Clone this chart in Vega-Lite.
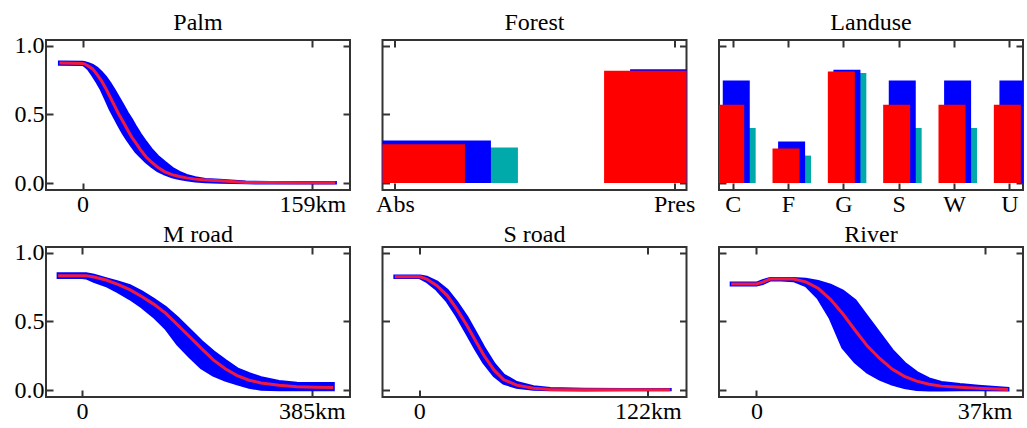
{
  "$schema": "https://vega.github.io/schema/vega-lite/v6.json",
  "autosize": {"type": "pad"},
  "padding": {"left": 13, "top": 9, "right": 0, "bottom": 0},
  "background": "white",
  "bounds": "flush",
  "columns": 3,
  "spacing": {"row": 57, "column": 32.5},
  "config": {
    "view": {"stroke": "#333", "strokeWidth": 2},
    "axis": {"labelFont": "Liberation Serif", "labelFontSize": 24, "labelColor": "black", "tickColor": "#333", "tickWidth": 2, "tickSize": -7, "domain": false, "grid": false, "title": null, "labelFlush": false, "labelOverlap": false},
    "axisX": {"labelPadding": 9},
    "axisY": {"labelPadding": 9},
    "title": {"font": "Liberation Serif", "fontSize": 24, "fontWeight": "normal", "color": "black", "offset": -1}
  },
  "datasets": {
    "palm": [
      {"km": -16, "mean": 0.872, "lo": 0.864, "hi": 0.88},
      {"km": 0, "mean": 0.87, "lo": 0.862, "hi": 0.878},
      {"km": 1.2, "mean": 0.867, "lo": 0.855, "hi": 0.876},
      {"km": 4, "mean": 0.85, "lo": 0.83, "hi": 0.868},
      {"km": 7, "mean": 0.83, "lo": 0.785, "hi": 0.855},
      {"km": 10, "mean": 0.79, "lo": 0.735, "hi": 0.835},
      {"km": 13, "mean": 0.745, "lo": 0.68, "hi": 0.805},
      {"km": 16, "mean": 0.69, "lo": 0.61, "hi": 0.77},
      {"km": 19, "mean": 0.628, "lo": 0.54, "hi": 0.725},
      {"km": 22, "mean": 0.565, "lo": 0.48, "hi": 0.675},
      {"km": 25, "mean": 0.502, "lo": 0.42, "hi": 0.62},
      {"km": 28, "mean": 0.447, "lo": 0.365, "hi": 0.565},
      {"km": 31, "mean": 0.39, "lo": 0.315, "hi": 0.51},
      {"km": 34, "mean": 0.335, "lo": 0.27, "hi": 0.46},
      {"km": 37, "mean": 0.29, "lo": 0.227, "hi": 0.405},
      {"km": 40, "mean": 0.243, "lo": 0.195, "hi": 0.355},
      {"km": 44, "mean": 0.19, "lo": 0.155, "hi": 0.295},
      {"km": 48, "mean": 0.15, "lo": 0.12, "hi": 0.24},
      {"km": 52, "mean": 0.115, "lo": 0.09, "hi": 0.195},
      {"km": 57, "mean": 0.082, "lo": 0.065, "hi": 0.15},
      {"km": 62, "mean": 0.062, "lo": 0.045, "hi": 0.108},
      {"km": 67, "mean": 0.048, "lo": 0.033, "hi": 0.078},
      {"km": 72, "mean": 0.038, "lo": 0.024, "hi": 0.056},
      {"km": 78, "mean": 0.029, "lo": 0.016, "hi": 0.04},
      {"km": 85, "mean": 0.022, "lo": 0.01, "hi": 0.026},
      {"km": 95, "mean": 0.017, "lo": 0.006, "hi": 0.02},
      {"km": 113, "mean": 0.005, "lo": 0.002, "hi": 0.008},
      {"km": 130, "mean": 0.004, "lo": 0.001, "hi": 0.005},
      {"km": 150, "mean": 0.003, "lo": 0.001, "hi": 0.004},
      {"km": 175, "mean": 0.003, "lo": 0.001, "hi": 0.004}
    ],
    "mroad": [
      {"km": -40, "mean": 0.831, "lo": 0.818, "hi": 0.845},
      {"km": 0, "mean": 0.831, "lo": 0.818, "hi": 0.845},
      {"km": 7, "mean": 0.831, "lo": 0.815, "hi": 0.845},
      {"km": 20, "mean": 0.822, "lo": 0.79, "hi": 0.835},
      {"km": 40, "mean": 0.8, "lo": 0.76, "hi": 0.81},
      {"km": 60, "mean": 0.768, "lo": 0.715, "hi": 0.787},
      {"km": 80, "mean": 0.73, "lo": 0.665, "hi": 0.76},
      {"km": 100, "mean": 0.68, "lo": 0.605, "hi": 0.715},
      {"km": 120, "mean": 0.625, "lo": 0.535, "hi": 0.66},
      {"km": 140, "mean": 0.56, "lo": 0.45, "hi": 0.6},
      {"km": 160, "mean": 0.475, "lo": 0.335, "hi": 0.525},
      {"km": 180, "mean": 0.39, "lo": 0.245, "hi": 0.44},
      {"km": 200, "mean": 0.303, "lo": 0.163, "hi": 0.355},
      {"km": 220, "mean": 0.22, "lo": 0.108, "hi": 0.28},
      {"km": 240, "mean": 0.155, "lo": 0.073, "hi": 0.215},
      {"km": 260, "mean": 0.105, "lo": 0.045, "hi": 0.155},
      {"km": 280, "mean": 0.072, "lo": 0.02, "hi": 0.12},
      {"km": 300, "mean": 0.052, "lo": 0.007, "hi": 0.09},
      {"km": 330, "mean": 0.035, "lo": 0.003, "hi": 0.062},
      {"km": 360, "mean": 0.025, "lo": 0.003, "hi": 0.05},
      {"km": 390, "mean": 0.021, "lo": 0.003, "hi": 0.048},
      {"km": 421, "mean": 0.019, "lo": 0.003, "hi": 0.048}
    ],
    "sroad": [
      {"km": -13, "mean": 0.824, "lo": 0.818, "hi": 0.83},
      {"km": 0, "mean": 0.824, "lo": 0.818, "hi": 0.83},
      {"km": 0.5, "mean": 0.824, "lo": 0.815, "hi": 0.83},
      {"km": 4, "mean": 0.807, "lo": 0.79, "hi": 0.82},
      {"km": 9.5, "mean": 0.759, "lo": 0.73, "hi": 0.785},
      {"km": 15, "mean": 0.687, "lo": 0.645, "hi": 0.725},
      {"km": 20, "mean": 0.59, "lo": 0.54, "hi": 0.64},
      {"km": 25.5, "mean": 0.47, "lo": 0.41, "hi": 0.53},
      {"km": 30, "mean": 0.361, "lo": 0.3, "hi": 0.42},
      {"km": 34.5, "mean": 0.253, "lo": 0.2, "hi": 0.31},
      {"km": 40, "mean": 0.145, "lo": 0.105, "hi": 0.19},
      {"km": 45, "mean": 0.077, "lo": 0.05, "hi": 0.11},
      {"km": 52, "mean": 0.036, "lo": 0.02, "hi": 0.055},
      {"km": 61, "mean": 0.014, "lo": 0.006, "hi": 0.025},
      {"km": 70, "mean": 0.005, "lo": 0.002, "hi": 0.012},
      {"km": 88, "mean": 0.003, "lo": 0.001, "hi": 0.006},
      {"km": 110, "mean": 0.003, "lo": 0.002, "hi": 0.004},
      {"km": 134, "mean": 0.003, "lo": 0.002, "hi": 0.004}
    ],
    "river": [
      {"km": -4.1, "mean": 0.771, "lo": 0.764, "hi": 0.778},
      {"km": 0, "mean": 0.771, "lo": 0.764, "hi": 0.778},
      {"km": 1, "mean": 0.785, "lo": 0.775, "hi": 0.795},
      {"km": 2.2, "mean": 0.807, "lo": 0.8, "hi": 0.812},
      {"km": 4, "mean": 0.807, "lo": 0.8, "hi": 0.812},
      {"km": 6, "mean": 0.807, "lo": 0.795, "hi": 0.812},
      {"km": 8, "mean": 0.787, "lo": 0.76, "hi": 0.805},
      {"km": 10, "mean": 0.74, "lo": 0.67, "hi": 0.79},
      {"km": 12, "mean": 0.66, "lo": 0.52, "hi": 0.762},
      {"km": 14, "mean": 0.555, "lo": 0.31, "hi": 0.72},
      {"km": 16, "mean": 0.435, "lo": 0.204, "hi": 0.65},
      {"km": 18, "mean": 0.32, "lo": 0.13, "hi": 0.53},
      {"km": 20, "mean": 0.23, "lo": 0.08, "hi": 0.41},
      {"km": 22, "mean": 0.153, "lo": 0.043, "hi": 0.29},
      {"km": 24, "mean": 0.1, "lo": 0.018, "hi": 0.196},
      {"km": 26, "mean": 0.065, "lo": 0.005, "hi": 0.128},
      {"km": 28, "mean": 0.043, "lo": 0.0, "hi": 0.082},
      {"km": 30, "mean": 0.029, "lo": 0.0, "hi": 0.055},
      {"km": 33, "mean": 0.02, "lo": 0.002, "hi": 0.04},
      {"km": 36, "mean": 0.013, "lo": 0.003, "hi": 0.028},
      {"km": 40.8, "mean": 0.005, "lo": 0.001, "hi": 0.012}
    ],
    "forest": [
      {"cat": "Abs", "s": "teal", "v": 0.259},
      {"cat": "Pres", "s": "teal", "v": 0.8},
      {"cat": "Abs", "s": "blue", "v": 0.31},
      {"cat": "Pres", "s": "blue", "v": 0.828},
      {"cat": "Abs", "s": "red", "v": 0.283},
      {"cat": "Pres", "s": "red", "v": 0.816}
    ],
    "landuse": [
      {"cat": "C", "s": "teal", "v": 0.4},
      {"cat": "F", "s": "teal", "v": 0.2},
      {"cat": "G", "s": "teal", "v": 0.8},
      {"cat": "S", "s": "teal", "v": 0.4},
      {"cat": "W", "s": "teal", "v": 0.4},
      {"cat": "U", "s": "teal", "v": 0.4},
      {"cat": "C", "s": "blue", "v": 0.746},
      {"cat": "F", "s": "blue", "v": 0.302},
      {"cat": "G", "s": "blue", "v": 0.823},
      {"cat": "S", "s": "blue", "v": 0.746},
      {"cat": "W", "s": "blue", "v": 0.746},
      {"cat": "U", "s": "blue", "v": 0.746},
      {"cat": "C", "s": "red", "v": 0.569},
      {"cat": "F", "s": "red", "v": 0.252},
      {"cat": "G", "s": "red", "v": 0.811},
      {"cat": "S", "s": "red", "v": 0.569},
      {"cat": "W", "s": "red", "v": 0.569},
      {"cat": "U", "s": "red", "v": 0.569}
    ]
  },
  "concat": [
    {
      "title": {"text": "Palm", "offset": -1}, "width": 304, "height": 150,
      "data": {"name": "palm"},
      "layer": [
        {"mark": {"type": "area", "color": "#0000ff", "stroke": "#0000ff", "strokeWidth": 3, "clip": true},
         "encoding": {
           "x": {"field": "km", "type": "quantitative", "scale": {"domain": [-25.3, 185.1], "nice": false, "zero": false}, "axis": {"orient": "bottom", "values": [0, 159], "labelExpr": "datum.value == 0 ? '0' : datum.value + 'km'"}},
           "y": {"field": "hi", "type": "quantitative", "scale": {"domain": [-0.05, 1.04], "nice": false, "zero": false}, "axis": {"orient": "left", "values": [0, 0.5, 1], "format": ".1f"}},
           "y2": {"field": "lo"}}},
        {"mark": {"type": "line", "color": "#f01a40", "strokeWidth": 3, "clip": true},
         "encoding": {
           "x": {"field": "km", "type": "quantitative", "axis": {"orient": "top", "values": [0, 159], "labels": false}},
           "y": {"field": "mean", "type": "quantitative", "axis": {"orient": "right", "values": [0, 0.5, 1], "labels": false}}}}
      ],
      "resolve": {"axis": {"x": "independent", "y": "independent"}}
    },
    {
      "title": {"text": "Forest", "offset": 4}, "width": 304, "height": 150,
      "data": {"name": "forest"},
      "layer": [
        {"transform": [{"filter": "datum.s == 'teal'"}],
         "mark": {"type": "bar", "width": 140, "xOffset": 53, "clip": true, "color": "#00aaaa"},
         "encoding": {
           "x": {"field": "cat", "type": "nominal", "scale": {"type": "point", "domain": ["Abs", "Pres"], "padding": 0.0445}, "axis": {"orient": "bottom", "labelAngle": 0}},
           "y": {"field": "v", "type": "quantitative", "scale": {"domain": [-0.05, 1.04], "nice": false, "zero": false}, "axis": {"orient": "left", "values": [0, 0.5, 1], "labels": false}},
           "y2": {"datum": 0}}},
        {"transform": [{"filter": "datum.s == 'blue'"}],
         "mark": {"type": "bar", "width": 140, "xOffset": 26, "clip": true, "color": "#0000ff"},
         "encoding": {
           "x": {"field": "cat", "type": "nominal", "axis": {"orient": "top", "labels": false}},
           "y": {"field": "v", "type": "quantitative", "axis": {"orient": "right", "values": [0, 0.5, 1], "labels": false}},
           "y2": {"datum": 0}}},
        {"transform": [{"filter": "datum.s == 'red'"}],
         "mark": {"type": "bar", "width": 140, "xOffset": 0, "clip": true, "color": "#ff0000"},
         "encoding": {
           "x": {"field": "cat", "type": "nominal", "axis": null},
           "y": {"field": "v", "type": "quantitative", "axis": null},
           "y2": {"datum": 0}}}
      ],
      "resolve": {"axis": {"x": "independent", "y": "independent"}}
    },
    {
      "title": {"text": "Landuse", "offset": 4}, "width": 304, "height": 150,
      "data": {"name": "landuse"},
      "layer": [
        {"transform": [{"filter": "datum.s == 'teal'"}],
         "mark": {"type": "bar", "width": 27, "xOffset": 9.5, "clip": true, "color": "#00aaaa"},
         "encoding": {
           "x": {"field": "cat", "type": "nominal", "scale": {"type": "point", "domain": ["C", "F", "G", "S", "W", "U"], "padding": 0.247}, "axis": {"orient": "bottom", "labelAngle": 0}},
           "y": {"field": "v", "type": "quantitative", "scale": {"domain": [-0.05, 1.04], "nice": false, "zero": false}, "axis": {"orient": "left", "values": [0, 0.5, 1], "labels": false}},
           "y2": {"datum": 0}}},
        {"transform": [{"filter": "datum.s == 'blue'"}],
         "mark": {"type": "bar", "width": 27, "xOffset": 3.6, "clip": true, "color": "#0000ff"},
         "encoding": {
           "x": {"field": "cat", "type": "nominal", "axis": {"orient": "top", "labels": false}},
           "y": {"field": "v", "type": "quantitative", "axis": {"orient": "right", "values": [0, 0.5, 1], "labels": false}},
           "y2": {"datum": 0}}},
        {"transform": [{"filter": "datum.s == 'red'"}],
         "mark": {"type": "bar", "width": 27, "xOffset": -2, "clip": true, "color": "#ff0000"},
         "encoding": {
           "x": {"field": "cat", "type": "nominal", "axis": null},
           "y": {"field": "v", "type": "quantitative", "axis": null},
           "y2": {"datum": 0}}}
      ],
      "resolve": {"axis": {"x": "independent", "y": "independent"}}
    },
    {
      "title": {"text": "M road", "offset": -6}, "width": 304, "height": 150,
      "data": {"name": "mroad"},
      "layer": [
        {"mark": {"type": "area", "color": "#0000ff", "stroke": "#0000ff", "strokeWidth": 3, "clip": true},
         "encoding": {
           "x": {"field": "km", "type": "quantitative", "scale": {"domain": [-60.3, 449], "nice": false, "zero": false}, "axis": {"orient": "bottom", "values": [0, 385], "labelExpr": "datum.value == 0 ? '0' : datum.value + 'km'"}},
           "y": {"field": "hi", "type": "quantitative", "scale": {"domain": [-0.05, 1.04], "nice": false, "zero": false}, "axis": {"orient": "left", "values": [0, 0.5, 1], "format": ".1f"}},
           "y2": {"field": "lo"}}},
        {"mark": {"type": "line", "color": "#f01a40", "strokeWidth": 3, "clip": true},
         "encoding": {
           "x": {"field": "km", "type": "quantitative", "axis": {"orient": "top", "values": [0, 385], "labels": false}},
           "y": {"field": "mean", "type": "quantitative", "axis": {"orient": "right", "values": [0, 0.5, 1], "labels": false}}}}
      ],
      "resolve": {"axis": {"x": "independent", "y": "independent"}}
    },
    {
      "title": {"text": "S road", "offset": -1}, "width": 304, "height": 150,
      "data": {"name": "sroad"},
      "layer": [
        {"mark": {"type": "area", "color": "#0000ff", "stroke": "#0000ff", "strokeWidth": 3, "clip": true},
         "encoding": {
           "x": {"field": "km", "type": "quantitative", "scale": {"domain": [-19.6, 142.7], "nice": false, "zero": false}, "axis": {"orient": "bottom", "values": [0, 122], "labelExpr": "datum.value == 0 ? '0' : datum.value + 'km'"}},
           "y": {"field": "hi", "type": "quantitative", "scale": {"domain": [-0.05, 1.04], "nice": false, "zero": false}, "axis": {"orient": "left", "values": [0, 0.5, 1], "labels": false}},
           "y2": {"field": "lo"}}},
        {"mark": {"type": "line", "color": "#f01a40", "strokeWidth": 3, "clip": true},
         "encoding": {
           "x": {"field": "km", "type": "quantitative", "axis": {"orient": "top", "values": [0, 122], "labels": false}},
           "y": {"field": "mean", "type": "quantitative", "axis": {"orient": "right", "values": [0, 0.5, 1], "labels": false}}}}
      ],
      "resolve": {"axis": {"x": "independent", "y": "independent"}}
    },
    {
      "title": {"text": "River", "offset": -1}, "width": 304, "height": 150,
      "data": {"name": "river"},
      "layer": [
        {"mark": {"type": "area", "color": "#0000ff", "stroke": "#0000ff", "strokeWidth": 3, "clip": true},
         "encoding": {
           "x": {"field": "km", "type": "quantitative", "scale": {"domain": [-6.08, 43.24], "nice": false, "zero": false}, "axis": {"orient": "bottom", "values": [0, 37], "labelExpr": "datum.value == 0 ? '0' : datum.value + 'km'"}},
           "y": {"field": "hi", "type": "quantitative", "scale": {"domain": [-0.05, 1.04], "nice": false, "zero": false}, "axis": {"orient": "left", "values": [0, 0.5, 1], "labels": false}},
           "y2": {"field": "lo"}}},
        {"mark": {"type": "line", "color": "#f01a40", "strokeWidth": 3, "clip": true},
         "encoding": {
           "x": {"field": "km", "type": "quantitative", "axis": {"orient": "top", "values": [0, 37], "labels": false}},
           "y": {"field": "mean", "type": "quantitative", "axis": {"orient": "right", "values": [0, 0.5, 1], "labels": false}}}}
      ],
      "resolve": {"axis": {"x": "independent", "y": "independent"}}
    }
  ]
}
